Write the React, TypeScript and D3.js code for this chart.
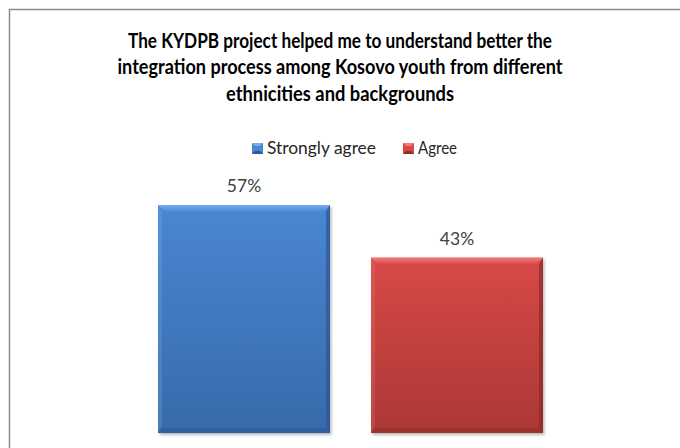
import React from "react";
import * as d3 from "d3";

const titleLines = [
  "The KYDPB project helped me to understand better the",
  "integration process among Kosovo youth from different",
  "ethnicities and backgrounds",
];
const categories = ["Strongly agree", "Agree"];
const values = [56.52, 43.48];
const labels = ["57%", "43%"];
const colors = ["#4a86d2", "#d84946"];
const colorsDark = ["#386aaa", "#aa3835"];
const colorsLight = ["#78aef0", "#f07d79"];
const colorsSide = ["#2c5691", "#8c2b28"];

const W = 680;
const H = 448;
const FONT = "Lato, 'Open Sans', sans-serif";

export default function App() {
  const x = d3
    .scaleBand<string>()
    .domain(categories)
    .range([137.5, 563.5])
    .paddingInner(0.1925)
    .paddingOuter(0.0963);
  const y = d3.scaleLinear().domain([0, 60]).range([433, 191]);
  const bev = 7;
  const sb = 4;

  const titleBaselines = [47.5, 74, 100.5];
  const titleWidths = [424, 445, 228];

  return (
    <svg
      width={W}
      height={H}
      style={{ position: "absolute", left: 0, top: 0, background: "#fff" }}
      fontFamily={FONT}
    >
      <defs>
        {categories.map((c, i) => (
          <linearGradient key={c} id={`g${i}`} x1="0" y1="0" x2="0" y2="1">
            <stop offset="0" stopColor={colors[i]} />
            <stop offset="1" stopColor={colorsDark[i]} />
          </linearGradient>
        ))}
        {categories.map((c, i) => (
          <linearGradient key={c} id={`t${i}`} x1="0" y1="0" x2="0" y2="1">
            <stop offset="0" stopColor={colorsLight[i]} />
            <stop offset="1" stopColor={colors[i]} />
          </linearGradient>
        ))}
        <filter id="sh" x="-10%" y="-10%" width="130%" height="130%">
          <feGaussianBlur stdDeviation="1.5" />
        </filter>
      </defs>
      <path d={`M9.5,${H} V9.5 H${W}`} fill="none" stroke="#8a8a8a" strokeWidth={1.5} />
      {titleLines.map((t, i) => (
        <text
          key={i}
          x={W / 2}
          y={titleBaselines[i]}
          textAnchor="middle"
          fontSize={20}
          fontWeight="bold"
          fill="#000"
          textLength={titleWidths[i]}
          lengthAdjust="spacingAndGlyphs"
        >
          {t}
        </text>
      ))}
      {categories.map((c, i) => {
        const lx = [252, 403][i];
        return (
          <g key={c}>
            <rect x={lx} y={143} width={11} height={11} fill={colors[i]} />
            <path d={`M${lx},143 h11 l-3,3 h-5 z`} fill={colorsLight[i]} />
            <path d={`M${lx},154 h11 l-3,-3 h-5 z`} fill={colorsSide[i]} />
            <text
              x={lx + 15}
              y={154}
              fontSize={17.5}
              fill="#262626"
              textLength={[109, 39][i]}
              lengthAdjust="spacingAndGlyphs"
            >
              {c}
            </text>
          </g>
        );
      })}
      {categories.map((c, i) => {
        const x0 = x(c)!;
        const bw = x.bandwidth();
        const y0 = y(values[i]);
        const y1 = y(0);
        const x1 = x0 + bw;
        return (
          <g key={c}>
            <rect
              x={x0 + 1.5}
              y={y0 + 2}
              width={bw}
              height={y1 - y0}
              fill="#000"
              opacity={0.28}
              filter="url(#sh)"
            />
            <rect x={x0} y={y0} width={bw} height={y1 - y0} fill={`url(#g${i})`} />
            <path
              d={`M${x0},${y0} H${x1} l-${bev},${bev} H${x0 + bev} z`}
              fill={`url(#t${i})`}
            />
            <path
              d={`M${x0},${y0} l${sb},${bev} V${y1 - bev} l-${sb},${bev} z`}
              fill={colorsLight[i]}
              opacity={0.25}
            />
            <path
              d={`M${x1},${y0} l-${sb},${bev} V${y1 - bev} l${sb},${bev} z`}
              fill={colorsSide[i]}
              opacity={0.7}
            />
            <path
              d={`M${x0},${y1} H${x1} l-${sb},-${bev - 2} H${x0 + sb} z`}
              fill={colorsSide[i]}
              opacity={0.5}
            />
            <text
              x={x0 + bw / 2}
              y={y0 - 13}
              textAnchor="middle"
              fontSize={17.5}
              fill="#404040"
            >
              {labels[i]}
            </text>
          </g>
        );
      })}
    </svg>
  );
}
